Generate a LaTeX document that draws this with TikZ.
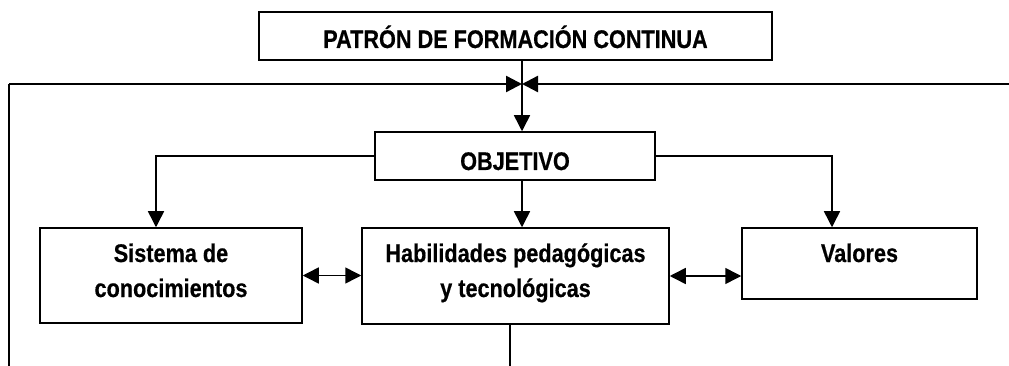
\documentclass[tikz,border=0pt]{standalone}
\usepackage{fontspec}
\setmainfont{Liberation Sans}[FakeStretch=0.85, BoldFeatures={FakeBold=0.5}]
\usetikzlibrary{arrows.meta}
\begin{document}
\begin{tikzpicture}[x=1pt,y=-1pt,
  box/.style={draw=black, line width=1.5pt, rectangle, inner sep=0pt, align=center,
    font=\fontsize{25.5}{35}\selectfont\bfseries},
  conn/.style={line width=1.5pt},
  frame/.style={line width=2.4pt},
  tip/.style={-{Triangle[length=16pt,width=16pt]}},
  dtip/.style={{Triangle[length=16pt,width=16pt]}-{Triangle[length=16pt,width=16pt]}}
]
\useasboundingbox (0,0) rectangle (1009,366);
% boxes
\node[box, minimum width=513pt, minimum height=48pt, text height=24pt, text depth=0pt] (top) at (515.5,36) {PATRÓN DE FORMACIÓN CONTINUA};
\node[box, minimum width=280pt, minimum height=48pt, text height=28pt, text depth=0pt] (obj) at (515,156) {OBJETIVO};
\node[box, minimum width=262pt, minimum height=95pt, text height=53pt, text depth=10pt] (sis) at (171,275.5) {Sistema de\\conocimientos};
\node[box, minimum width=307pt, minimum height=96pt, text height=53pt, text depth=11pt] (hab) at (515.5,276) {Habilidades pedagógicas\\y tecnológicas};
\node[box, minimum width=235pt, minimum height=71pt, text height=18pt, text depth=21pt] (val) at (859.5,263.5) {Valores};
% coordinates
\coordinate (j) at (522,84);
\coordinate (bl) at (9,366);
\coordinate (er) at (1009,84);
\coordinate (lb) at (156,156);
\coordinate (rb) at (832,156);
\coordinate (bh) at (510,366);
% connectors
\draw[conn] (top.south -| j) -- (j);
\draw[conn, tip] (j) -- (obj.north -| j);
\draw[conn] (bl) -- (bl |- j);
\draw[frame, tip] (bl |- j) -- (j);
\draw[frame, tip] (er) -- (j);
\draw[conn, tip] (obj.west) -- (lb) -- (lb |- sis.north);
\draw[conn, tip] (obj.east) -- (rb) -- (rb |- val.north);
\draw[conn, tip] (obj.south -| j) -- (hab.north -| j);
\draw[conn, dtip] (sis.east) -- (sis.east -| hab.west);
\draw[conn, dtip] (hab.east) -- (hab.east -| val.west);
\draw[conn] (hab.south -| bh) -- (bh);
\end{tikzpicture}
\end{document}
